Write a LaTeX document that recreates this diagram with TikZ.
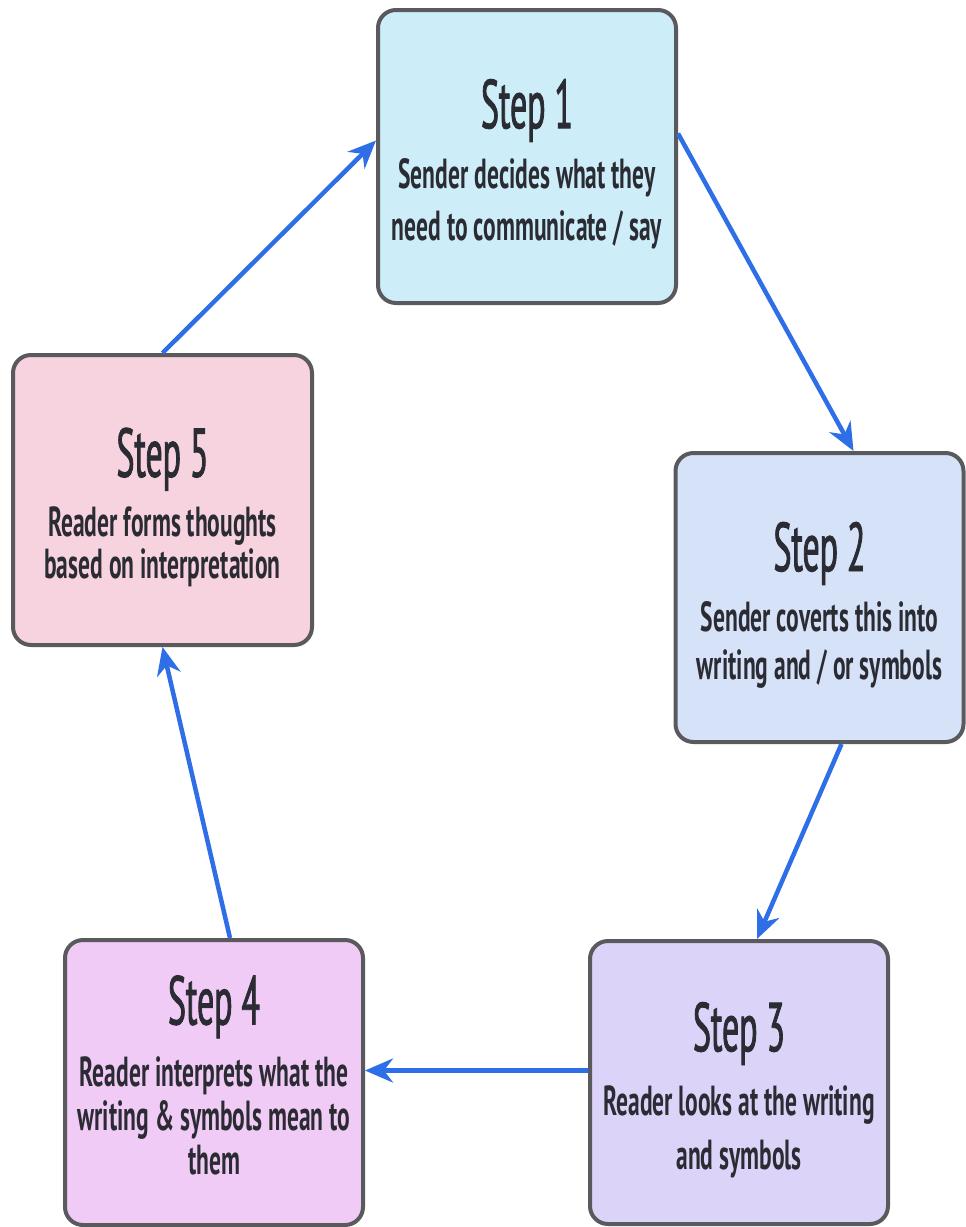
\documentclass[tikz,border=0pt]{standalone}
\usepackage{fontspec}
\setmainfont{PT Sans}[FakeStretch=0.56, BoldFeatures={FakeStretch=0.56}]
\newfontfamily\titlefont{PT Sans}[FakeStretch=0.49, FakeBold=1.2]
\usepackage{tikz}
\usetikzlibrary{calc,arrows.meta}
\definecolor{stepone}{HTML}{CDEEF9}
\definecolor{steptwo}{HTML}{D6E2F8}
\definecolor{stepthree}{HTML}{DCD3F9}
\definecolor{stepfour}{HTML}{F0CBF6}
\definecolor{stepfive}{HTML}{F6D3DE}
\definecolor{boxline}{HTML}{5A5A5E}
\definecolor{flowblue}{HTML}{2E6EE6}
\definecolor{steptext}{HTML}{2B2B33}
\newcommand\steplabel[1]{{\titlefont\mdseries\fontsize{69}{69}\selectfont\rule{0pt}{64pt}#1}}

\begin{document}
\begin{tikzpicture}[x=1pt, y=-1pt,
	stepbox/.style={draw=boxline, line width=4pt, rounded corners=18pt, align=center,
		minimum width=298pt, minimum height=288pt, inner sep=0pt, text=steptext,
		font={\bfseries\fontsize{42}{52}\selectfont}},
	flow/.style={draw=flowblue, line width=4.5pt, -{Stealth[length=28pt, width=24pt]}}]
	\useasboundingbox (0,0) rectangle (966,1227);
	\node[stepbox, fill=stepone, minimum height=293pt] (s1) at (527,156.5)
		{\steplabel{Step 1}\\[8pt]
		 Sender decides what they\\ need to communicate / say};
	\node[stepbox, fill=steptwo, minimum width=288pt, minimum height=289pt] (s2) at (819.5,597.5)
		{\steplabel{Step 2}\\[8pt]
		 Sender coverts this into\\[-4pt] writing and / or symbols};
	\node[stepbox, fill=stepthree, minimum height=283pt] (s3) at (739,1082.5)
		{\steplabel{Step 3}\\[12pt]
		 Reader looks at the writing\\[2pt] and symbols};
	\node[stepbox, fill=stepfour, minimum height=285pt] (s4) at (214,1082.5)
		{\steplabel{Step 4}\\[10pt]
		 Reader interprets what the\\[-8pt] writing \& symbols mean to\\[-8pt] them\rule[-30pt]{0pt}{0pt}};
	\node[stepbox, fill=stepfive, minimum width=299pt, minimum height=290pt] (s5) at (162.5,500)
		{\steplabel{Step 5}\\[8pt]
		 Reader forms thoughts\\[-10pt] based on interpretation};
	\draw[flow] ($(s1.east)+(0,-23)$) -- ($(s2.north)+(34,0)$);
	\draw[flow] ($(s2.south)+(22,0)$) -- ($(s3.north)+(18,0)$);
	\draw[flow] ($(s3.west)+(0,-12)$) -- ($(s4.east)+(0,-12)$);
	\draw[flow] ($(s4.north)+(16,0)$) -- (s5.south);
	\draw[flow] (s5.north) -- ($(s1.west)+(0,-16)$);
\end{tikzpicture}
\end{document}
